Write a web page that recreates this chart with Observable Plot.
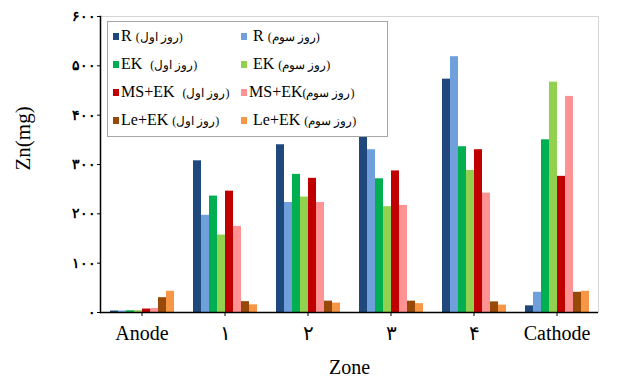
<!DOCTYPE html>
<html>
<head>
<meta charset="utf-8">
<script src="https://cdn.jsdelivr.net/npm/d3@7"></script>
<script src="https://cdn.jsdelivr.net/npm/@observablehq/plot@0.6"></script>
<style>
  body { margin: 0; background: #fff; }
  #wrap { position: relative; width: 618px; height: 376px; font-family: "Liberation Serif", serif; }
  #legend { position: absolute; left: 107px; top: 21px; width: 281px; height: 116px; box-sizing: border-box;
    border: 1px solid #a6a6a6; background: #fff; display: grid; grid-template-columns: 128px 1fr;
    grid-auto-rows: 28px; padding-left: 5px; font-size: 16px; color: #000; }
  .item { display: flex; align-items: center; white-space: pre; direction: ltr; }
  .sw { width: 6px; height: 7px; margin-right: 2px; flex: none; }
  .fa { font-size: 12px; }
</style>
</head>
<body>
<div id="wrap">
  <div id="chart"></div>
  <div id="legend"></div>
</div>
<script>
// Categories (zones) and their displayed tick labels
const zones = ["Anode", "1", "2", "3", "4", "Cathode"];
const zoneLabels = ["Anode", "۱", "۲", "۳", "۴", "Cathode"];

// Series keys, legend labels, colours
const seriesKeys = ["R1", "R3", "EK1", "EK3", "MS1", "MS3", "Le1", "Le3"];
const seriesLabels = [
  "R (روز اول)", " R (روز سوم)",
  "EK  (روز اول)", " EK (روز سوم)",
  "MS+EK  (روز اول)", "MS+EK(روز سوم)",
  "Le+EK (روز اول)", " Le+EK (روز سوم)"
];
const seriesColors = ["#1f497d", "#6fa0dc", "#00b050", "#92d050", "#c00000", "#ff9393", "#984807", "#f79646"];

// Values per series (mg), one per zone
const rDay1  = [3, 307.5, 340, 356, 473, 13.5];
const rDay3  = [3, 197, 223, 330, 518.5, 41];
const ekDay1 = [3.5, 236, 280, 271, 336, 350];
const ekDay3 = [3.5, 157, 234, 214.5, 288, 467];
const msDay1 = [7, 246, 272, 287, 330, 276];
const msDay3 = [8, 174.5, 223, 217, 242, 438];
const leDay1 = [30, 22, 23, 23, 21.5, 41];
const leDay3 = [43, 15.5, 19, 18, 15, 43];

// Y ticks
const yTicks = [0, 100, 200, 300, 400, 500, 600];
const yTickLabels = ["۰", "۱۰۰", "۲۰۰", "۳۰۰", "۴۰۰", "۵۰۰", "۶۰۰"];

const seriesValues = [rDay1, rDay3, ekDay1, ekDay3, msDay1, msDay3, leDay1, leDay3];
const data = [];
zones.forEach((z, zi) => {
  seriesKeys.forEach((s, si) => {
    data.push({zone: z, series: s, value: seriesValues[si][zi]});
  });
});

const chart = Plot.plot({
  width: 618,
  height: 376,
  marginLeft: 98,
  marginRight: 18,
  marginTop: 16,
  marginBottom: 64,
  style: {fontFamily: "Liberation Serif, serif", background: "#fff", color: "#000"},
  fx: {domain: zones, padding: 0},
  x: {domain: seriesKeys, paddingInner: 0, paddingOuter: 0.78, axis: null},
  y: {domain: [0, 600]},
  color: {domain: seriesKeys, range: seriesColors},
  marks: [
    Plot.ruleY([600], {stroke: "#d4d4d4"}),
    Plot.frame({anchor: "right", facetAnchor: "right", stroke: "#d4d4d4"}),
    Plot.barY(data, {fx: "zone", x: "series", y: "value", fill: "series", inset: 0}),
    Plot.ruleY([0], {stroke: "#000", strokeWidth: 1.5}),
    Plot.frame({anchor: "left", facetAnchor: "left", stroke: "#000", strokeWidth: 1.5}),
    Plot.axisY({ticks: yTicks, tickFormat: (d) => yTickLabels[yTicks.indexOf(d)], tickSize: 3, tickPadding: 2,
      fontSize: 14, fontWeight: "bold", label: null}),
    Plot.axisFx({anchor: "bottom", tickSize: 4, tickPadding: 9, fontSize: 20,
      tickFormat: (d) => zoneLabels[zones.indexOf(d)],
      label: "Zone", labelAnchor: "center", labelArrow: "none", labelOffset: 61}),
    Plot.text(["Zn(mg)"], {text: (d) => d, frameAnchor: "left", rotate: -90, dx: -77, dy: 6,
      fontSize: 21, facetAnchor: "left"})
  ]
});
document.getElementById("chart").appendChild(chart);

const legend = document.getElementById("legend");
seriesKeys.forEach((s, i) => {
  const item = document.createElement("div");
  item.className = "item";
  const sw = document.createElement("span");
  sw.className = "sw";
  sw.style.background = seriesColors[i];
  const t = document.createElement("span");
  seriesLabels[i].split(/(\(.*\))/).forEach((part) => {
    if (!part) return;
    const p = document.createElement("span");
    if (part.startsWith("(")) p.className = "fa";
    p.textContent = part;
    t.appendChild(p);
  });
  item.appendChild(sw);
  item.appendChild(t);
  legend.appendChild(item);
});
</script>
</body>
</html>
